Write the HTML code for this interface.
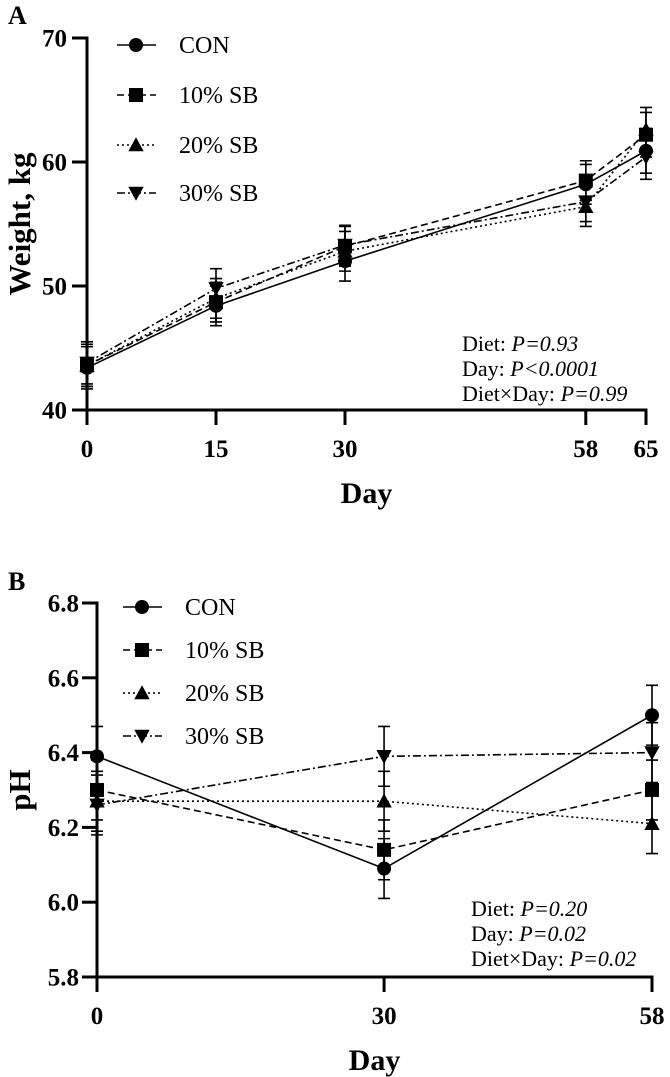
<!DOCTYPE html>
<html><head><meta charset="utf-8">
<style>
html,body{margin:0;padding:0;background:#fff;}
svg{display:block;font-family:"Liberation Serif",serif;}
</style></head>
<body>
<svg id="chart" width="670" height="1077" viewBox="0 0 670 1077" xmlns="http://www.w3.org/2000/svg"></svg>
<script>
// Panel A data
const daysA = [0, 15, 30, 58, 65];
const conA = [43.4, 48.4, 52.0, 58.2, 60.9];
const sb10A = [43.6, 48.7, 53.2, 58.5, 62.2];
const sb20A = [43.6, 49.0, 52.8, 56.4, 62.6];
const sb30A = [43.8, 49.8, 53.3, 56.8, 60.4];
const errA = [1.7, 1.6, 1.6, 1.6, 1.8];
const yTicksA = [40, 50, 60, 70];
const xTicksA = [0, 15, 30, 58, 65];
// Panel B data
const daysB = [0, 30, 58];
const conB = [6.39, 6.09, 6.50];
const sb10B = [6.30, 6.14, 6.30];
const sb20B = [6.27, 6.27, 6.21];
const sb30B = [6.26, 6.39, 6.40];
const errB = [0.08, 0.08, 0.08];
const yTicksB = [5.8, 6.0, 6.2, 6.4, 6.6, 6.8];
const xTicksB = [0, 30, 58];
const seriesNames = ["CON", "10% SB", "20% SB", "30% SB"];
const statsA = [["Diet: ", "P=0.93"], ["Day: ", "P<0.0001"], ["Diet×Day: ", "P=0.99"]];
const statsB = [["Diet: ", "P=0.20"], ["Day: ", "P=0.02"], ["Diet×Day: ", "P=0.02"]];

const NS = "http://www.w3.org/2000/svg";
const svg = document.getElementById("chart");
function mk(tag, attrs, parent) {
  const e = document.createElementNS(NS, tag);
  for (const k in attrs) e.setAttribute(k, attrs[k]);
  (parent || svg).appendChild(e);
  return e;
}
const dashes = ["none", "7,4", "2,3", "8,3,2,3"];
const markers = ["circle", "square", "up", "down"];
function marker(g, type, x, y, s) {
  if (type === "circle") return mk("circle", {cx: x, cy: y, r: s, fill: "#000"}, g);
  if (type === "square") return mk("rect", {x: x - s, y: y - s, width: 2 * s, height: 2 * s, fill: "#000"}, g);
  if (type === "up") return mk("polygon", {points: `${x},${y - s * 1.1} ${x - s * 1.1},${y + s * 0.9} ${x + s * 1.1},${y + s * 0.9}`, fill: "#000"}, g);
  return mk("polygon", {points: `${x},${y + s * 1.1} ${x - s * 1.1},${y - s * 0.9} ${x + s * 1.1},${y - s * 0.9}`, fill: "#000"}, g);
}

function panel(cfg) {
  const g = mk("g", {});
  
  
  const xs = d => cfg.x0 + (d - cfg.xmin) / (cfg.xmax - cfg.xmin) * (cfg.x1 - cfg.x0);
  const ys = v => cfg.y0 - (v - cfg.ymin) / (cfg.ymax - cfg.ymin) * (cfg.y0 - cfg.y1);
  const L = mk("text", {x: 8, y: cfg.letterY, "font-size": 26, "font-weight": "bold"}, g);
  L.textContent = cfg.letter;
  
  
  const ya = mk("line", {x1: cfg.x0, y1: cfg.y1 - 1.5, x2: cfg.x0, y2: cfg.y0, stroke: "#000", "stroke-width": 3}, g);
  
  
  const xa = mk("line", {x1: cfg.x0 - 15, y1: cfg.y0, x2: cfg.x1 + 1.5, y2: cfg.y0, stroke: "#000", "stroke-width": 3}, g);
  
  
  cfg.yTicks.forEach(t => {
    const y = ys(t);
    mk("line", {x1: cfg.x0 - 15, y1: y, x2: cfg.x0, y2: y, stroke: "#000", "stroke-width": 3}, g);
    const tx = mk("text", {x: cfg.x0 - cfg.tickGap, y: y + 8.5, "font-size": 25, "font-weight": "bold", "text-anchor": "end"}, g);
    tx.textContent = cfg.yFmt(t);
    
    
  });
  cfg.xTicks.forEach(t => {
    const x = xs(t);
    mk("line", {x1: x, y1: cfg.y0, x2: x, y2: cfg.y0 + 15, stroke: "#000", "stroke-width": 3}, g);
    const tx = mk("text", {x: x, y: cfg.y0 + 47, "font-size": 25, "font-weight": "bold", "text-anchor": "middle"}, g);
    tx.textContent = t;
    
    
  });
  const xt = mk("text", {x: (cfg.x0 + cfg.x1) / 2, y: cfg.y0 + 93, "font-size": 30, "font-weight": "bold", "text-anchor": "middle"}, g);
  xt.textContent = "Day";
  
  
  const cy = (cfg.y0 + cfg.y1) / 2;
  const yt = mk("text", {x: 30, y: cy, "font-size": 31, "font-weight": "bold", "text-anchor": "middle", transform: `rotate(-90 30 ${cy})`}, g);
  yt.textContent = cfg.yTitle;
  
  
  cfg.series.forEach((vals, si) => {
    const sg = mk("g", {}, g);
    
    
    const pts = cfg.days.map((d, i) => `${xs(d)},${ys(vals[i])}`).join(" ");
    const attrs = {points: pts, fill: "none", stroke: "#000", "stroke-width": 1.6};
    if (dashes[si] !== "none") attrs["stroke-dasharray"] = dashes[si];
    const pl = mk("polyline", attrs, sg);
    
    
    cfg.days.forEach((d, i) => {
      const x = xs(d), y = ys(vals[i]);
      const yt2 = ys(vals[i] + cfg.err[i]), yb = ys(vals[i] - cfg.err[i]);
      const eb = mk("path", {d: `M${x},${yt2}V${yb}M${x - 6},${yt2}H${x + 6}M${x - 6},${yb}H${x + 6}`, stroke: "#000", "stroke-width": 1.6, fill: "none"}, sg);
      
      
      const m = marker(sg, markers[si], x, y, 7);
      
      
    });
  });
  seriesNames.forEach((n, i) => {
    const lg = mk("g", {}, g);
    
    
    const y = cfg.legY[i];
    const a = {x1: cfg.legX, y1: y, x2: cfg.legX + 39, y2: y, stroke: "#000", "stroke-width": 1.6};
    if (dashes[i] !== "none") a["stroke-dasharray"] = dashes[i];
    mk("line", a, lg);
    marker(lg, markers[i], cfg.legX + 19, y, 7);
    const t = mk("text", {x: cfg.legX + 62, y: y + 8, "font-size": 24}, lg);
    t.textContent = n;
  });
  cfg.stats.forEach((s, i) => {
    const t = mk("text", {x: cfg.statX, y: cfg.statY + i * 25, "font-size": 22}, g);
    
    
    t.textContent = s[0];
    const it = mk("tspan", {"font-style": "italic"}, t);
    it.textContent = s[1];
  });
}

panel({name: "panel-a-weight", letter: "A", letterY: 24, x0: 87, x1: 646, y0: 410, y1: 38, tickGap: 20,
  xmin: 0, xmax: 65, ymin: 40, ymax: 70, yTicks: yTicksA, xTicks: xTicksA, yFmt: t => t,
  yTitle: "Weight, kg", days: daysA, series: [conA, sb10A, sb20A, sb30A], err: errA,
  legX: 117, legY: [45, 95, 145, 193], stats: statsA, statX: 462, statY: 351});

panel({name: "panel-b-ph", letter: "B", letterY: 590, x0: 97, x1: 652, y0: 977, y1: 603, tickGap: 18,
  xmin: 0, xmax: 58, ymin: 5.8, ymax: 6.8, yTicks: yTicksB, xTicks: xTicksB, yFmt: t => t.toFixed(1),
  yTitle: "pH", days: daysB, series: [conB, sb10B, sb20B, sb30B], err: errB,
  legX: 123, legY: [607, 650, 693, 736], stats: statsB, statX: 471, statY: 916});
</script>
</body></html>
